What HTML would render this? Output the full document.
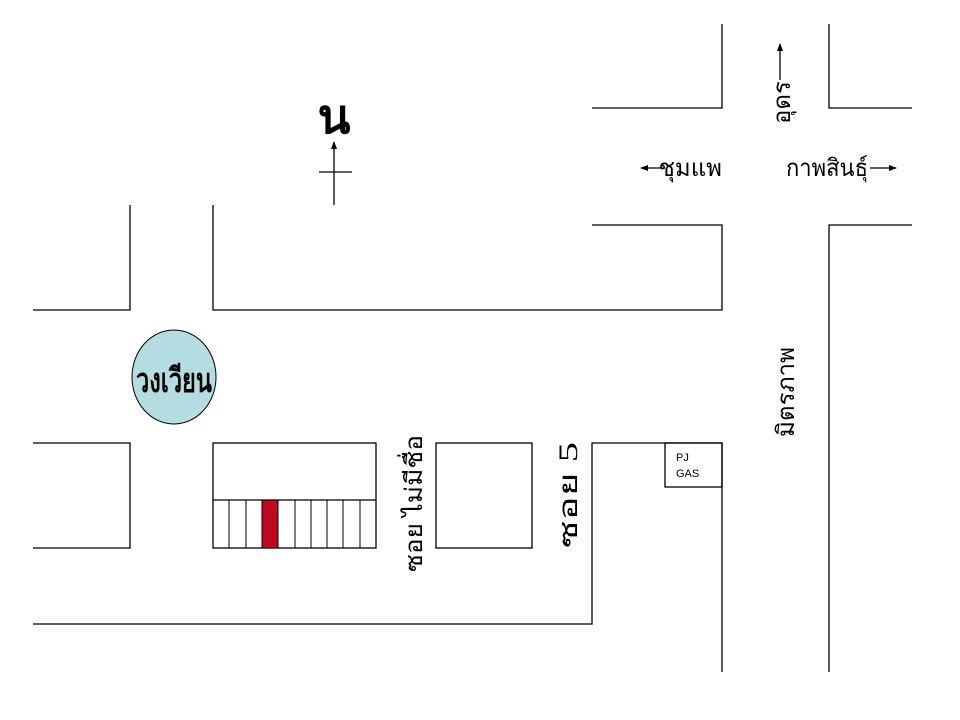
<!DOCTYPE html>
<html><head><meta charset="utf-8"><style>
html,body{margin:0;padding:0;background:#fff;width:960px;height:720px;overflow:hidden}
svg{display:block}
text{font-family:"Liberation Serif","DejaVu Sans",serif;fill:#000}
</style></head><body>
<svg width="960" height="720" viewBox="0 0 960 720" xmlns="http://www.w3.org/2000/svg">
<defs><marker id="ah" markerWidth="8" markerHeight="8" refX="7" refY="4" orient="auto" markerUnits="userSpaceOnUse"><path d="M0,1 L8,4 L0,7 Z" fill="#000"/></marker></defs>
<g stroke="#000" stroke-width="1.3" fill="none">
<polyline points="592,108 722,108 722,24"/>
<polyline points="829,24 829,108 912,108"/>
<polyline points="592,225 722,225 722,310 213,310 213,205"/>
<polyline points="912,225 829,225 829,672"/>
<polyline points="33,310 130,310 130,205"/>
<polyline points="33,443 130,443 130,548 33,548"/>
<rect x="213" y="443" width="163" height="105"/>
<line x1="213" y1="500" x2="376" y2="500"/>
<rect x="436" y="443" width="96" height="105"/>
<polyline points="33,624 592,624 592,443 722,443 722,672"/>
<rect x="665" y="443" width="57" height="44"/>
<line x1="334" y1="205" x2="334" y2="142" marker-end="url(#ah)"/>
<line x1="319" y1="172" x2="352" y2="172"/>
<line x1="780" y1="80" x2="780" y2="44" marker-end="url(#ah)"/>
<line x1="665" y1="168" x2="641" y2="168" marker-end="url(#ah)"/>
<line x1="870" y1="168" x2="896" y2="168" marker-end="url(#ah)"/>
</g>
<rect x="262" y="500" width="16" height="48" fill="#c00a1e" stroke="#000" stroke-width="1"/>
<g stroke="#000" stroke-width="1">
<line x1="229" y1="500" x2="229" y2="548"/><line x1="246" y1="500" x2="246" y2="548"/>
<line x1="295" y1="500" x2="295" y2="548"/><line x1="311" y1="500" x2="311" y2="548"/>
<line x1="327" y1="500" x2="327" y2="548"/><line x1="343" y1="500" x2="343" y2="548"/>
<line x1="360" y1="500" x2="360" y2="548"/>
</g>
<ellipse cx="174" cy="377" rx="42" ry="47" fill="#b4dde2" stroke="#000" stroke-width="1"/>
<text x="174" y="392" font-size="34" font-weight="bold" text-anchor="middle" textLength="76" lengthAdjust="spacingAndGlyphs">วงเวียน</text>
<text x="334" y="133" font-size="48" font-weight="bold" text-anchor="middle">น</text>
<text x="722" y="176" font-size="24" text-anchor="end">ชุมแพ</text>
<text x="786" y="176" font-size="24" textLength="82" lengthAdjust="spacingAndGlyphs">กาพสินธุ์</text>
<text transform="translate(790,124) rotate(-90)" font-size="24">อุดร</text>
<text transform="translate(794,437) rotate(-90)" font-size="24" textLength="90" lengthAdjust="spacingAndGlyphs">มิตรภาพ</text>
<text transform="translate(422,572) rotate(-90)" font-size="24" textLength="137" lengthAdjust="spacingAndGlyphs">ซอย ไม่มีชื่อ</text>
<text transform="translate(577,548) rotate(-90)" font-size="26" textLength="106" lengthAdjust="spacingAndGlyphs">ซอย 5</text>
<text x="676" y="461" font-size="11" style="font-family:'Liberation Sans',sans-serif">PJ</text>
<text x="676" y="477" font-size="11" style="font-family:'Liberation Sans',sans-serif">GAS</text>
</svg>
</body></html>
